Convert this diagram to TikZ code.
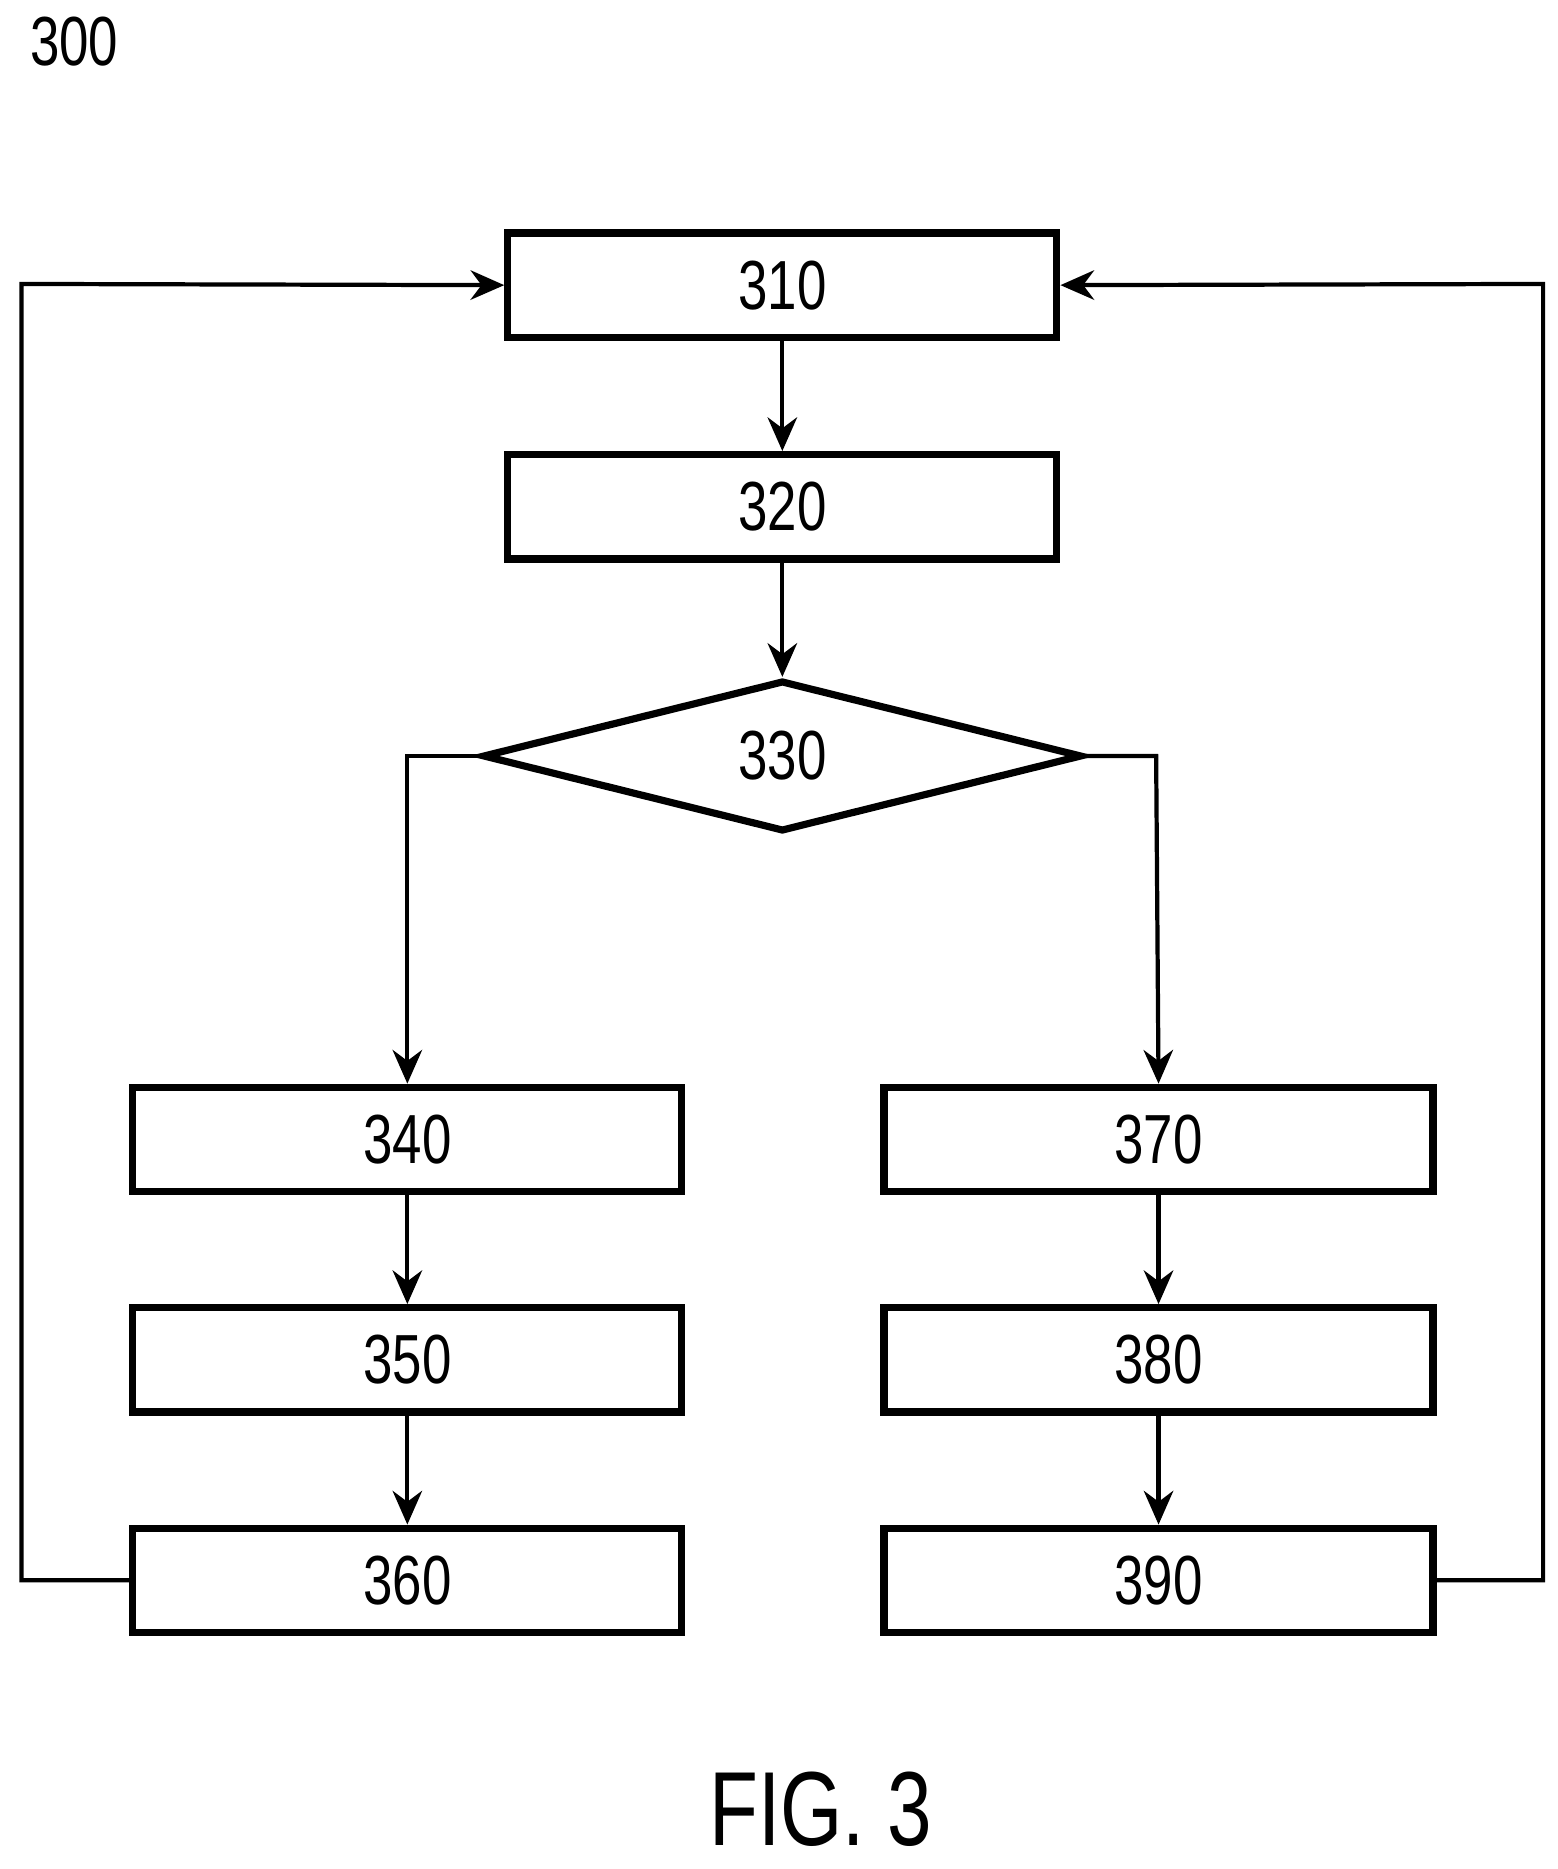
\documentclass[tikz,border=0pt]{standalone}
\usepackage{fontspec}
\setmainfont{Liberation Sans}[FakeStretch=0.76]
\usetikzlibrary{shapes.geometric,arrows.meta}
\begin{document}
\begin{tikzpicture}[x=0.01cm,y=-0.01cm,
  box/.style={draw,line width=1.7pt,minimum width=4.58cm,minimum height=0.87cm,font=\fontsize{16.5}{17}\selectfont,inner sep=0},
  arr/.style={line width=1pt,-{Stealth[length=8pt,width=7pt]}},
  ln/.style={line width=1pt}]
\useasboundingbox (0,0) rectangle (1300,1560);
\node[font=\fontsize{16.5}{17}\selectfont] (t300) at (62,35) {300};
\node[box] (b310) at (653,238) {310};
\node[box] (b320) at (653,423) {320};
\node[draw,line width=1.7pt,diamond,minimum width=5.0cm,minimum height=1.26cm,inner sep=0] (b330) at (653,631) {};
\node[font=\fontsize{16.5}{17}\selectfont] at (b330) {330};
\node[box] (b340) at (340,951) {340};
\node[box] (b350) at (340,1135) {350};
\node[box] (b360) at (340,1319) {360};
\node[box] (b370) at (967,951) {370};
\node[box] (b380) at (967,1135) {380};
\node[box] (b390) at (967,1319) {390};
\node[font=\fontsize{25}{25}\selectfont] (fig) at (685,1510) {FIG. 3};
\coordinate (l1) at (18,1319); \coordinate (l2) at (18,237);
\coordinate (r1) at (1288,1319); \coordinate (r2) at (1288,237);
\coordinate (dl) at (340,631); \coordinate (dr) at (965,631);
\draw[arr] (b310) -- (b320);
\draw[arr] (b320) -- (b330.north);
\draw[arr] (b330.west) -- (dl) -- (b340.north);
\draw[arr] (b330.east) -- (dr) -- (b370.north);
\draw[arr] (b340) -- (b350);
\draw[arr] (b350) -- (b360);
\draw[arr] (b370) -- (b380);
\draw[arr] (b380) -- (b390);
\draw[arr] (b360.west) -- (l1) -- (l2) -- (b310.west);
\draw[arr] (b390.east) -- (r1) -- (r2) -- (b310.east);
\end{tikzpicture}
\end{document}
